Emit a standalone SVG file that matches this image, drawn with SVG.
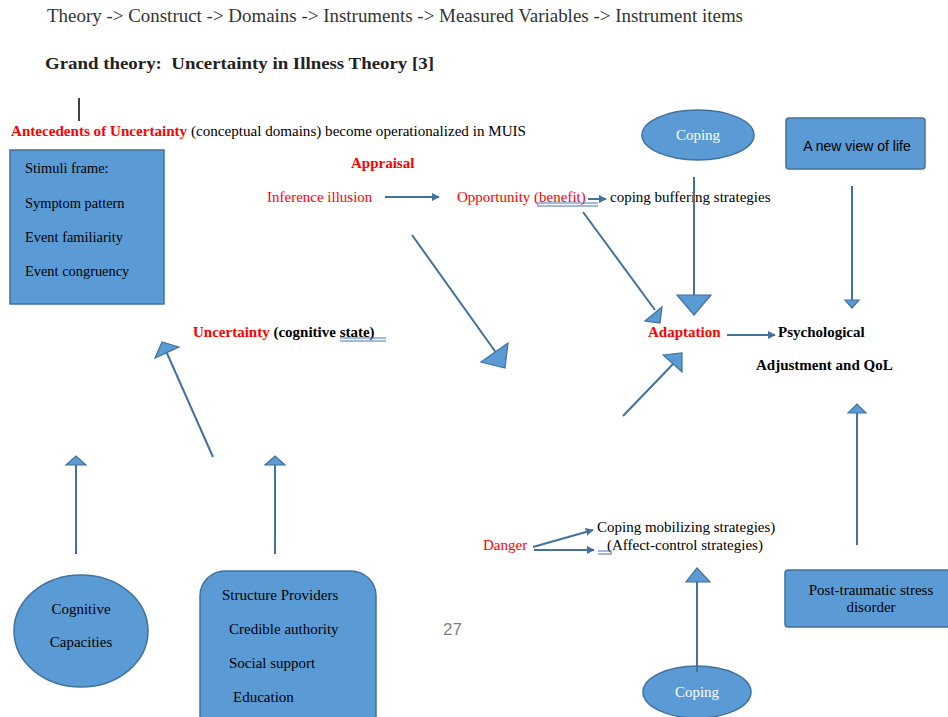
<svg xmlns="http://www.w3.org/2000/svg" width="948" height="717" viewBox="0 0 948 717">
<defs>
<style>
.s{font-family:"Liberation Serif","Times New Roman",serif;font-size:15px;fill:#000}
.sm{font-size:14.4px}
.b{font-weight:bold}
.r{fill:#ff0000}
.w{fill:#ffffff}
.sans{font-family:"Liberation Sans",Arial,sans-serif}
.shape{fill:#5b9bd5;stroke:#41719c;stroke-width:1.5}
.ln{stroke:#41719c;stroke-width:2;fill:none}
.hd{fill:#5b9bd5;stroke:#41719c;stroke-width:1.2}
.ul{stroke:#4472c4;stroke-width:1;fill:none}
</style>
<marker id="ah" viewBox="0 0 10 10" refX="9" refY="5" markerWidth="4" markerHeight="4" orient="auto" markerUnits="strokeWidth">
<path d="M0,0 L10,5 L0,10 z" fill="#41719c"/>
</marker>
</defs>
<rect width="948" height="717" fill="#ffffff"/>

<g id="header">
<text class="s" x="47" y="22" style="font-size:18px;fill:#333" textLength="696" lengthAdjust="spacingAndGlyphs">Theory -&gt; Construct -&gt; Domains -&gt; Instruments -&gt; Measured Variables -&gt; Instrument items</text>
<text class="s b" x="45" y="69" style="font-size:17px;fill:#222;white-space:pre" textLength="389" lengthAdjust="spacingAndGlyphs">Grand theory:  Uncertainty in Illness Theory [3]</text>
<line x1="79" y1="98" x2="79" y2="121" stroke="#000" stroke-width="1.5"/>
<text class="s" x="11" y="136" textLength="515" lengthAdjust="spacingAndGlyphs"><tspan class="b r">Antecedents of Uncertainty</tspan> (conceptual domains) become operationalized in MUIS</text>
<text class="sans" x="443" y="635" style="font-size:17px;fill:#7f7f7f">27</text>
</g>

<g id="stimuli">
<rect class="shape" x="10" y="150" width="154" height="154"/>
<text class="s sm" x="25" y="173">Stimuli frame:</text>
<text class="s sm" x="25" y="208">Symptom pattern</text>
<text class="s sm" x="25" y="242">Event familiarity</text>
<text class="s sm" x="25" y="276">Event congruency</text>
</g>

<g id="appraisal">
<text class="s b r" x="351" y="168">Appraisal</text>
</g>
<g id="inference">
<text class="s r" x="267" y="202">Inference illusion</text>
</g>
<g id="opportunity">
<text class="s" x="457" y="202"><tspan class="r">Opportunity (benefit)</tspan></text>
<path class="ul" d="M537,203 H598 M537,206 H598"/>
<text class="s" x="610" y="202">coping buffering strategies</text>
</g>

<g id="coping-top">
<ellipse class="shape" cx="698" cy="135" rx="56" ry="25"/>
<text class="s w" x="698" y="140" text-anchor="middle">Coping</text>
</g>

<g id="new-view">
<rect class="shape" x="786" y="118" width="139" height="51" rx="3"/>
<text class="sans" x="857" y="151" text-anchor="middle" style="font-size:14px">A new view of life</text>
</g>

<g id="uncertainty">
<text class="s b" x="193" y="337"><tspan class="r">Uncertainty</tspan> (cognitive state)</text>
<path class="ul" d="M340,338 H386 M340,341 H386"/>
</g>

<g id="adaptation">
<text class="s b r" x="648" y="337">Adaptation</text>
</g>
<g id="psych">
<text class="s b" x="778" y="337">Psychological</text>
<text class="s b" x="756" y="370">Adjustment and QoL</text>
</g>

<g id="cognitive">
<ellipse class="shape" cx="81" cy="631" rx="67" ry="56"/>
<text class="s" x="81" y="614" text-anchor="middle">Cognitive</text>
<text class="s" x="81" y="647" text-anchor="middle">Capacities</text>
</g>

<g id="structure">
<rect class="shape" x="200" y="571" width="176" height="170" rx="25"/>
<text class="s" x="222" y="600">Structure Providers</text>
<text class="s" x="229" y="634">Credible authority</text>
<text class="s" x="229" y="668">Social support</text>
<text class="s" x="233" y="702">Education</text>
</g>

<g id="danger">
<text class="s r" x="483" y="550">Danger</text>
</g>
<g id="coping-strategies">
<text class="s" x="597" y="532">Coping mobilizing strategies)</text>
<text class="s" x="607" y="550">(Affect-control strategies)</text>
<path class="ul" d="M598,551 H612 M598,554 H612"/>
</g>

<g id="coping-bottom">
<ellipse class="shape" cx="697" cy="692" rx="54" ry="26"/>
<text class="s w" x="697" y="697" text-anchor="middle">Coping</text>
</g>

<g id="ptsd">
<rect class="shape" x="785" y="570" width="170" height="57" rx="3"/>
<text class="s" x="871" y="595" text-anchor="middle">Post-traumatic stress</text>
<text class="s" x="871" y="612" text-anchor="middle">disorder</text>
</g>

<g id="connectors">
<line class="ln" x1="385" y1="197" x2="439" y2="197" marker-end="url(#ah)"/>
<line class="ln" x1="588" y1="199" x2="606" y2="199" marker-end="url(#ah)"/>
<line class="ln" x1="727" y1="335" x2="775" y2="335" marker-end="url(#ah)"/>
<line class="ln" x1="533" y1="547" x2="593" y2="530" marker-end="url(#ah)"/>
<line class="ln" x1="534" y1="550" x2="594" y2="550" marker-end="url(#ah)"/>

<line class="ln" x1="694" y1="177" x2="694" y2="296"/>
<polygon class="hd" points="677,295 711,295 694,315"/>

<line class="ln" x1="852" y1="186" x2="852" y2="300"/>
<polygon class="hd" points="845,300 859,300 852,308"/>

<line class="ln" x1="583" y1="212" x2="655" y2="310"/>
<polygon class="hd" points="645,321 662,307 660,323"/>

<line class="ln" x1="412" y1="235" x2="497" y2="354"/>
<polygon class="hd" points="481,362 508,343 505,368"/>

<line class="ln" x1="623" y1="416" x2="674" y2="363"/>
<polygon class="hd" points="663,355 682,353 682,372"/>

<line class="ln" x1="857" y1="545" x2="857" y2="413"/>
<polygon class="hd" points="848,413 866,413 857,404"/>

<line class="ln" x1="213" y1="457" x2="166" y2="351"/>
<polygon class="hd" points="155,358 162,342 179,347"/>

<line class="ln" x1="76" y1="554" x2="76" y2="465"/>
<polygon class="hd" points="66,465 86,465 76,456"/>

<line class="ln" x1="275" y1="554" x2="275" y2="465"/>
<polygon class="hd" points="265,465 285,465 275,456"/>

<line class="ln" x1="697" y1="672" x2="697" y2="582"/>
<polygon class="hd" points="686,582 710,582 697,568"/>
</g>
</svg>
